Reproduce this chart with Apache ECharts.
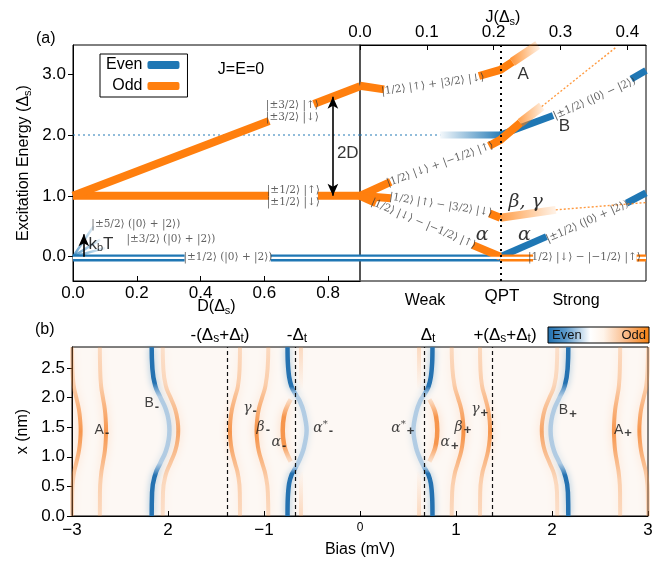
<!DOCTYPE html>
<html><head><meta charset="utf-8">
<script src="https://cdn.jsdelivr.net/npm/echarts@6/dist/echarts.min.js"></script>
<style>html,body{margin:0;padding:0;background:#fff}#c{width:670px;height:562px}</style>
</head><body><div id="c"></div>
<script>
// ================= DATA =================
// axis ticks
const dTicks = [0, 0.2, 0.4, 0.6, 0.8];
const jTicks = [0, 0.1, 0.2, 0.3, 0.4];
const eTicks = [0, 1, 2, 3];
const xnmTicks = [0, 0.5, 1, 1.5, 2, 2.5];
const biasTicks = [-3, -2, -1, 0, 1, 2, 3];
const biasTickLabels = ['−3', '2', '−1', '0', '1', '2', '3'];

// ---- panel (a), left: energy vs D ----
const oddD32a = [[0, 1.0], [0.615, 2.23]];
const oddD32b = [[0.755, 2.51], [0.9, 2.8]];
const oddD12a = [[0, 1.0], [0.615, 1.0]];
const oddD12b = [[0.768, 1.0], [0.9, 1.0]];
const evenD0a = [[0, -0.02], [0.35, -0.02]];
const evenD0b = [[0.62, -0.02], [0.9, -0.02]];
const evenD52 = [[0, 0.0], [0.065, 0.5]];
const evenD32 = [[0, 0.0], [0.085, 0.28]];
const evenD32b = [[0, 0.0], [0.1, 0.14]];
const evenDot2 = [[0, 2.0], [0.9, 2.0]];
const arrow2D = [[0.815, 1.0], [0.815, 2.63]];
const arrowKbT = [[0.034, 0.0], [0.034, 0.37]];

// ---- panel (a), right: energy vs J ----
const qptJ = 0.21;
const evenJdot = [[0, 2.0], [0.12, 2.0]];
const evenJfade = [[0.12, 2.0], [0.21, 2.0]];
const evenJB1 = [[0.21, 2.0], [0.289, 2.32]];
const evenJB2 = [[0.406, 2.92], [0.428, 3.06]];
const evenJS1 = [[0.21, 0.0], [0.279, 0.33]];
const evenJS2 = [[0.399, 0.88], [0.428, 1.05]];
const evenJg = [[0, -0.02], [0.21, -0.02]];
const oddJg1 = [[0.21, -0.02], [0.259, -0.02]];
const oddJg2 = [[0.414, -0.02], [0.428, -0.02]];
const oddJA1 = [[0, 2.81], [0.036, 2.75]];
const oddJA2 = [[0.178, 2.97], [0.21, 3.07], [0.228, 3.2]];
const oddJAfade = [[0.228, 3.2], [0.266, 3.48]];
const oddJB1 = [[0, 1.0], [0.046, 1.23]];
const oddJB2 = [[0.193, 1.82], [0.21, 1.92], [0.24, 2.2]];
const oddJBfade = [[0.24, 2.2], [0.272, 2.47]];
const oddJBdot = [[0.272, 2.47], [0.384, 3.45]];
const oddJG1 = [[0, 1.0], [0.046, 0.96]];
const oddJG2 = [[0.194, 0.71], [0.21, 0.64]];
const oddJGfade = [[0.21, 0.64], [0.293, 0.77]];
const oddJGdot = [[0.293, 0.77], [0.428, 0.89]];
const oddJAl1 = [[0, 1.0], [0.024, 0.88]];
const oddJAl2 = [[0.169, 0.19], [0.21, 0.0]];

// ---- panel (b): peak positions (positive-bias branch, mirrored) ----
const xsFull = [0, 0.4, 0.7, 0.9, 1.1, 1.3, 1.45, 1.6, 1.8, 2.0, 2.2, 2.5, 2.85];
const biasAouter = [3.00, 2.998, 2.982, 2.955, 2.928, 2.914, 2.91, 2.914, 2.928, 2.955, 2.982, 2.996, 3.00];
const biasAinner = [2.71, 2.709, 2.697, 2.678, 2.658, 2.648, 2.645, 2.648, 2.658, 2.678, 2.697, 2.707, 2.71];
const biasBodd = [2.055, 2.052, 2.023, 1.974, 1.925, 1.899, 1.893, 1.899, 1.925, 1.974, 2.023, 2.049, 2.055];
const biasBeven = [2.17, 2.166, 2.133, 2.078, 2.022, 1.992, 1.985, 1.992, 2.022, 2.078, 2.133, 2.163, 2.17];
const biasGamma = [1.25, 1.252, 1.271, 1.303, 1.334, 1.351, 1.355, 1.351, 1.334, 1.303, 1.271, 1.254, 1.25];
const biasBeta = [0.955, 0.96, 0.985, 1.02, 1.055, 1.073, 1.078, 1.073, 1.055, 1.02, 0.985, 0.962, 0.955];
const xsAlphaStar = [0, 0.3, 0.55, 0.7, 0.8, 0.95, 1.15, 1.45, 1.75, 1.95, 2.07, 2.18, 2.35, 2.6, 2.85];
const biasAlphaStar = [0.755, 0.752, 0.738, 0.712, 0.677, 0.63, 0.585, 0.556, 0.585, 0.63, 0.677, 0.712, 0.738, 0.752, 0.755];
const xsAlpha = [0.92, 1.05, 1.2, 1.45, 1.7, 1.85, 1.97];
const biasAlpha = [0.722, 0.76, 0.79, 0.805, 0.79, 0.76, 0.722];
const xsFaintLow = [0, 0.75];
const xsFaintHigh = [2.15, 2.85];
const biasFaint = [0.615, 0.615];
const dashBias = [0.673, 1.376];

// ================= STYLE =================
const BLUE = '#1f77b4', ORANGE = '#ff7f0e';
const SANS = "'Liberation Sans', Arial, Helvetica, sans-serif";
const SERIF = "'DejaVu Serif', 'Liberation Serif', serif";
const fadeH = (rgb, a0, a1) => ({type:'linear', x:0, y:0, x2:1, y2:0, colorStops:[{offset:0, color:`rgba(${rgb},${a0})`},{offset:1, color:`rgba(${rgb},${a1})`}]});
const vgrad = (stops) => ({type:'linear', x:0, y:0, x2:0, y2:1, colorStops: stops.map(s => ({offset:s[0], color:s[1]}))});

const series = [];
function L(data, gi, color, width, o) {
  o = o || {};
  const s = {type:'line', xAxisIndex:gi, yAxisIndex:gi, data:data, symbol:'none', silent:true, animation:false,
    smooth: o.smooth || false, z: o.z || 2,
    lineStyle: Object.assign({color:color, width:width, cap:'butt', join:'round'}, o.ls || {})};
  if (o.name) { s.name = o.name; s.itemStyle = {color: color}; }
  if (o.markLine) s.markLine = o.markLine;
  series.push(s);
}

// ---- panel (a) left ----
L(evenDot2, 0, 'rgba(31,119,180,0.65)', 1.6, {ls:{type:[2,3]}});
L(evenD52, 0, fadeH('31,119,180',0.8,0.05), 2.5);
L(evenD32, 0, fadeH('31,119,180',0.8,0.05), 2.5);
L(evenD32b, 0, fadeH('31,119,180',0.8,0.05), 2.5);
[evenD0a, evenD0b].forEach(d => { L(d, 0, BLUE, 7); L(d, 0, '#fff', 2.4, {z:3}); });
L(oddD12a, 0, ORANGE, 8, {name:'Odd'});
L(oddD12b, 0, ORANGE, 8);
L(oddD32a, 0, ORANGE, 8);
L(oddD32b, 0, ORANGE, 8);
L([], 0, BLUE, 7, {name:'Even'});
L([], 0, '#000', 1, {markLine:{silent:true, animation:false, symbol:['arrow','arrow'], symbolSize:[8,12], label:{show:false},
  lineStyle:{color:'#000', width:1.6, type:'solid'}, data:[[{coord:arrow2D[0]},{coord:arrow2D[1]}]]}});
L([], 0, '#000', 1, {markLine:{silent:true, animation:false, symbol:['none','arrow'], symbolSize:[8,12], label:{show:false},
  lineStyle:{color:'#000', width:1.6, type:'solid'}, data:[[{coord:arrowKbT[0]},{coord:arrowKbT[1]}]]}});

// ---- panel (a) right ----
L(evenJdot, 1, 'rgba(31,119,180,0.65)', 1.6, {ls:{type:[2,3]}});
L(evenJfade, 1, fadeH('31,119,180',0,1), 7);
L(evenJB1, 1, BLUE, 7);
L(evenJB2, 1, BLUE, 7);
L(evenJS1, 1, BLUE, 7);
L(evenJS2, 1, BLUE, 7);
L(evenJg, 1, BLUE, 7); L(evenJg, 1, '#fff', 2.4, {z:3});
[oddJg1, oddJg2].forEach(d => { L(d, 1, ORANGE, 7); L(d, 1, '#fff', 2.4, {z:3}); });
L(oddJA1, 1, ORANGE, 8);
L(oddJA2, 1, ORANGE, 8);
L(oddJAfade, 1, fadeH('255,127,14',0.9,0.05), 9);
L(oddJB1, 1, ORANGE, 8);
L(oddJB2, 1, ORANGE, 8, {z:4});
L(oddJBfade, 1, fadeH('255,127,14',0.8,0.05), 9, {z:4});
L(oddJBdot, 1, 'rgba(255,127,14,0.8)', 1.4, {ls:{type:[2,2]}});
L(oddJG1, 1, ORANGE, 8);
L(oddJG2, 1, ORANGE, 8);
L(oddJGfade, 1, fadeH('255,127,14',0.8,0.05), 8);
L(oddJGdot, 1, 'rgba(255,127,14,0.8)', 1.4, {ls:{type:[2,2]}});
L(oddJAl1, 1, ORANGE, 8);
L(oddJAl2, 1, ORANGE, 8);
L([], 1, '#000', 1, {markLine:{silent:true, animation:false, symbol:'none', label:{show:false},
  lineStyle:{color:'#000', width:2, type:[2,4]}, data:[{xAxis:qptJ}]}});

// ---- panel (b) ----
const toPts = (xs, b, sign) => xs.map((x, i) => [sign * b[i], x]);
const orangeGrad = (lo, hi) => vgrad([[0,`rgba(248,150,75,${lo})`],[0.22,`rgba(248,145,65,${lo*1.3})`],[0.5,`rgba(245,128,40,${hi})`],[0.78,`rgba(248,145,65,${lo*1.3})`],[1,`rgba(248,150,75,${lo})`]]);
const glow = {shadowBlur:9, shadowColor:'rgba(248,150,80,0.45)'};
[1, -1].forEach(sg => {
  L(toPts(xsFull, biasAouter, sg), 2, orangeGrad(0.28, 0.8), 4, {smooth:true, ls:glow});
  L(toPts(xsFull, biasAinner, sg), 2, orangeGrad(0.28, 0.8), 4, {smooth:true, ls:glow});
  L(toPts(xsFull, biasBodd, sg), 2, orangeGrad(0.22, 0.65), 4, {smooth:true, ls:glow});
  L(toPts(xsFull, biasGamma, sg), 2, orangeGrad(0.28, 0.8), 4, {smooth:true, ls:glow});
  L(toPts(xsFull, biasBeta, sg), 2, orangeGrad(0.28, 0.85), 4, {smooth:true, ls:glow});
  L(toPts(xsAlpha, biasAlpha, sg), 2, vgrad([[0,'rgba(248,150,75,0.15)'],[0.3,'rgba(245,128,40,0.8)'],[0.7,'rgba(245,128,40,0.8)'],[1,'rgba(248,150,75,0.15)']]), 4.5, {smooth:true, ls:glow});
  L(toPts(xsFaintLow, biasFaint, sg), 2, vgrad([[0,'rgba(248,150,75,0)'],[1,'rgba(248,150,75,0.3)']]), 4, {ls:{shadowBlur:6, shadowColor:'rgba(248,150,80,0.3)'}});
  L(toPts(xsFaintHigh, biasFaint, sg), 2, vgrad([[0,'rgba(248,150,75,0.3)'],[1,'rgba(248,150,75,0)']]), 4, {ls:{shadowBlur:6, shadowColor:'rgba(248,150,80,0.3)'}});
  const blueStops = [[0,'rgba(27,108,174,0.95)'],[0.22,'rgba(27,108,174,0.95)'],[0.3,'rgba(110,165,215,0.45)'],[0.68,'rgba(110,165,215,0.45)'],[0.75,'rgba(27,108,174,0.95)'],[1,'rgba(27,108,174,0.95)']];
  L(toPts(xsFull, biasBeven, sg), 2, vgrad(blueStops), 4.5, {smooth:true, z:3, ls:{shadowBlur:7, shadowColor:'rgba(31,119,180,0.45)'}});
  const aStops = [[0,'rgba(27,108,174,0.95)'],[0.24,'rgba(27,108,174,0.95)'],[0.29,'rgba(110,165,215,0.45)'],[0.7,'rgba(110,165,215,0.45)'],[0.74,'rgba(27,108,174,0.95)'],[1,'rgba(27,108,174,0.95)']];
  L(toPts(xsAlphaStar, biasAlphaStar, sg), 2, vgrad(aStops), 4.5, {smooth:0.3, z:3, ls:{shadowBlur:7, shadowColor:'rgba(31,119,180,0.45)'}});
});
L([], 2, '#000', 1, {z:6, markLine:{silent:true, animation:false, symbol:'none', label:{show:false},
  lineStyle:{color:'#111', width:1.2, type:[4,3]}, data: dashBias.flatMap(v => [{xAxis:v},{xAxis:-v}])}});

// ---- annotations (data coordinates) ----
function labels(gi, items, base) {
  series.push({type:'scatter', xAxisIndex:gi, yAxisIndex:gi, symbolSize:1, silent:true, clip:false, z:10, animation:false,
    itemStyle:{color:'rgba(0,0,0,0)'},
    data: items.map(it => ({value:[it[0], it[1]], label: Object.assign({show:true, position:'inside', formatter: it[2], rotate: it[3] || 0}, base)}))});
}
const ketStyle = {fontFamily:SERIF, fontSize:10.5, color:'#3a3a3a', lineHeight:12};
labels(0, [
  [0.688, 2.385, '|±3/2⟩ |↑⟩\n|±3/2⟩ |↓⟩'],
  [0.691, 1.0, '|±1/2⟩ |↑⟩\n|±1/2⟩ |↓⟩'],
  [0.486, -0.01, '|±1/2⟩ (|0⟩ + |2⟩)'],
  [0.197, 0.53, '|±5/2⟩ (|0⟩ + |2⟩)'],
  [0.307, 0.29, '|±3/2⟩ (|0⟩ + |2⟩)']
], ketStyle);
labels(1, [
  [0.109, 2.83, '|1/2⟩ |↑⟩ + |3/2⟩ |↓⟩', 8],
  [0.12, 1.52, '|1/2⟩ |↓⟩ + |−1/2⟩ |↑⟩', 20],
  [0.121, 0.85, '|1/2⟩ |↑⟩ − |3/2⟩ |↓⟩', -9],
  [0.095, 0.54, '|1/2⟩ |↓⟩ − |−1/2⟩ |↑⟩', -23],
  [0.34, 0.575, '|±1/2⟩ (|0⟩ + |2⟩)', 24],
  [0.351, 2.6, '|±1/2⟩ (|0⟩ − |2⟩)', 24],
  [0.336, -0.01, '|1/2⟩ |↓⟩ − |−1/2⟩ |↑⟩', 0]
], ketStyle);
labels(1, [[0.244, 2.99, 'A'], [0.306, 2.14, 'B']], {fontFamily:SANS, fontSize:17, color:'#000'});
labels(1, [[0.248, 0.905, 'β, γ'], [0.183, 0.357, 'α'], [0.246, 0.357, 'α']], {fontFamily:SERIF, fontStyle:'italic', fontSize:19, color:'#000'});
labels(0, [[0.047, 0.21, '{a|k}{b|b}{a|T}'], [0.826, 1.7, '2D']], {fontFamily:SANS, fontSize:17, color:'#000', position:'right', distance:0,
  rich:{a:{fontSize:17, fontFamily:SANS}, b:{fontSize:11, fontFamily:SANS, padding:[9,0,0,0]}}});
const bRich = {m:{fontSize:14, fontFamily:SANS, color:'#111'}, g:{fontSize:14, fontFamily:SERIF, fontStyle:'italic', color:'#111'},
  sb:{fontSize:13, fontWeight:'bold', fontFamily:SANS, color:'#111', padding:[7,0,0,1]}, sp:{fontSize:10, fontFamily:SERIF, color:'#111', padding:[0,0,7,0]}};
labels(2, [
  [-2.77, 1.45, '{m|A}{sb|-}'], [-2.25, 1.90, '{m|B}{sb|-}'], [-1.222, 1.82, '{g|γ}{sb|-}'], [-1.083, 1.50, '{g|β}{sb|-}'],
  [-0.927, 1.24, '{g|α}{sb|-}'], [-0.493, 1.48, '{g|α}{sp|*}{sb|-}'], [0.32, 1.48, '{g|α}{sp|*}{sb|+}'],
  [0.833, 1.24, '{g|α}{sb|+}'], [0.98, 1.50, '{g|β}{sb|+}'], [1.153, 1.80, '{g|γ}{sb|+}'], [2.066, 1.78, '{m|B}{sb|+}'], [2.64, 1.45, '{m|A}{sb|+}']
], {position:'right', distance:0, rich:bRich});

// ================= AXES =================
const nameRich = {a:{fontSize:16, fontFamily:SANS, color:'#000'}, s:{fontSize:11, fontFamily:SANS, color:'#000', padding:[8,0,0,0]}};
const tickLbl = {fontSize:17, fontFamily:SANS, color:'#000'};
const blackLine = {lineStyle:{color:'#000', width:1}, onZero:false};
const option = {
  backgroundColor:'#fff', animation:false,
  textStyle:{fontFamily:SANS},
  legend:{data:['Even','Odd'], orient:'vertical', left:100, top:54, align:'right', itemWidth:32, itemHeight:8, itemGap:5,
    icon:'roundRect', borderColor:'#000', borderWidth:1, borderRadius:0, padding:[3,8,3,6], selectedMode:false,
    textStyle:{fontSize:16, fontFamily:SANS, color:'#000', width:44}},
  grid:[
    {left:73, top:45, width:287, height:236, show:true, borderColor:'#000', borderWidth:1},
    {left:360, top:45, width:286, height:236, show:true, borderColor:'#000', borderWidth:1},
    {left:72, top:347, width:576, height:169, show:true, borderColor:'#000', borderWidth:1, backgroundColor:'#fdf8f4'}
  ],
  xAxis:[
    {gridIndex:0, type:'value', min:0, max:0.9, position:'bottom', axisLine:blackLine,
     axisTick:{inside:true, length:5, customValues:dTicks, lineStyle:{color:'#000'}},
     axisLabel:Object.assign({customValues:dTicks, formatter:v => v.toFixed(1), margin:4}, tickLbl), splitLine:{show:false},
     name:'{a|D(Δ}{s|s}{a|)}', nameLocation:'middle', nameGap:16, nameMoveOverlap:false, nameTextStyle:{rich:nameRich}},
    {gridIndex:1, type:'value', min:0, max:0.428, position:'top', axisLine:blackLine,
     axisTick:{inside:true, length:5, customValues:jTicks, lineStyle:{color:'#000'}},
     axisLabel:Object.assign({customValues:jTicks, formatter:v => v.toFixed(1), margin:4}, tickLbl), splitLine:{show:false},
     name:'{a|J(Δ}{s|s}{a|)}', nameLocation:'middle', nameGap:18, nameMoveOverlap:false, nameTextStyle:{rich:nameRich}},
    {gridIndex:2, type:'value', min:-3, max:3, position:'bottom', axisLine:blackLine,
     axisTick:{inside:true, length:5, customValues:biasTicks, lineStyle:{color:'#000'}},
     axisLabel:Object.assign({customValues:biasTicks, margin:6, formatter:v => { const t = biasTickLabels[biasTicks.indexOf(v)]; return v === 0 ? '{sm|' + t + '}' : t; },
       rich:{sm:{fontSize:12, fontFamily:SANS, color:'#000'}}}, tickLbl), splitLine:{show:false},
     name:'{a|Bias (mV)}', nameLocation:'middle', nameGap:26, nameMoveOverlap:false, nameTextStyle:{rich:nameRich}}
  ],
  yAxis:[
    {gridIndex:0, type:'value', min:-0.4, max:3.48, axisLine:blackLine,
     axisTick:{inside:false, length:5, customValues:eTicks, lineStyle:{color:'#000'}},
     axisLabel:Object.assign({customValues:eTicks, formatter:v => v.toFixed(1), margin:7}, tickLbl), splitLine:{show:false},
     name:'{a|Excitation Energy (Δ}{s|s}{a|)}', nameLocation:'middle', nameGap:40, nameTextStyle:{rich:nameRich}},
    {gridIndex:1, type:'value', min:-0.4, max:3.48, axisLine:{onZero:false, lineStyle:{color:'#555', width:2}},
     axisTick:{show:false}, axisLabel:{show:false}, splitLine:{show:false}},
    {gridIndex:2, type:'value', min:0, max:2.855, axisLine:blackLine,
     axisTick:{inside:false, length:5, customValues:xnmTicks, lineStyle:{color:'#000'}},
     axisLabel:Object.assign({customValues:xnmTicks, formatter:v => v.toFixed(1), margin:7}, tickLbl), splitLine:{show:false},
     name:'{a|x (nm)}', nameLocation:'middle', nameGap:38, nameTextStyle:{rich:nameRich}}
  ],
  series: series,
  graphic:[
    {type:'text', left:36, top:31, style:{text:'(a)', fontSize:16, fontFamily:SANS, fill:'#000'}},
    {type:'text', left:35, top:322, style:{text:'(b)', fontSize:16, fontFamily:SANS, fill:'#000'}},
    {type:'text', x:241, y:70, style:{text:'J=E=0', fontSize:16, fontFamily:SANS, fill:'#000', align:'center', verticalAlign:'middle'}},
    {type:'text', x:425, y:301, style:{text:'Weak', fontSize:16, fontFamily:SANS, fill:'#000', align:'center', verticalAlign:'middle'}},
    {type:'text', x:502, y:296, style:{text:'QPT', fontSize:17, fontFamily:SANS, fill:'#000', align:'center', verticalAlign:'middle'}},
    {type:'text', x:576, y:301, style:{text:'Strong', fontSize:16, fontFamily:SANS, fill:'#000', align:'center', verticalAlign:'middle'}},
    {type:'text', x:220, y:335, style:{text:'{a|-(Δ}{s|s}{a|+Δ}{s|t}{a|)}', align:'center', verticalAlign:'middle', rich:{a:{fontSize:17, fontFamily:SANS}, s:{fontSize:12, fontFamily:SANS, padding:[8,0,0,0]}}}},
    {type:'text', x:297, y:335, style:{text:'{a|-Δ}{s|t}', align:'center', verticalAlign:'middle', rich:{a:{fontSize:17, fontFamily:SANS}, s:{fontSize:12, fontFamily:SANS, padding:[8,0,0,0]}}}},
    {type:'text', x:428, y:335, style:{text:'{a|Δ}{s|t}', align:'center', verticalAlign:'middle', rich:{a:{fontSize:17, fontFamily:SANS}, s:{fontSize:12, fontFamily:SANS, padding:[8,0,0,0]}}}},
    {type:'text', x:505, y:335, style:{text:'{a|+(Δ}{s|s}{a|+Δ}{s|t}{a|)}', align:'center', verticalAlign:'middle', rich:{a:{fontSize:17, fontFamily:SANS}, s:{fontSize:12, fontFamily:SANS, padding:[8,0,0,0]}}}},
    {type:'rect', shape:{x:548, y:327, width:101, height:16}, style:{stroke:'#000', lineWidth:1,
      fill:{type:'linear', x:0, y:0, x2:1, y2:0, colorStops:[{offset:0, color:'#1f6fae'},{offset:0.18, color:'#5d9acb'},{offset:0.42, color:'#ffffff'},{offset:0.55, color:'#fff4ea'},{offset:0.8, color:'#f9b27a'},{offset:1, color:'#f5800f'}]}}},
    {type:'text', x:552, y:335, style:{text:'Even', fontSize:13, fontFamily:SANS, fill:'#111', verticalAlign:'middle'}},
    {type:'text', x:646, y:335, style:{text:'Odd', fontSize:13, fontFamily:SANS, fill:'#111', align:'right', verticalAlign:'middle'}}
  ]
};
const chart = echarts.init(document.getElementById('c'), null, {renderer:'canvas'});
chart.setOption(option);
</script>
</body></html>
